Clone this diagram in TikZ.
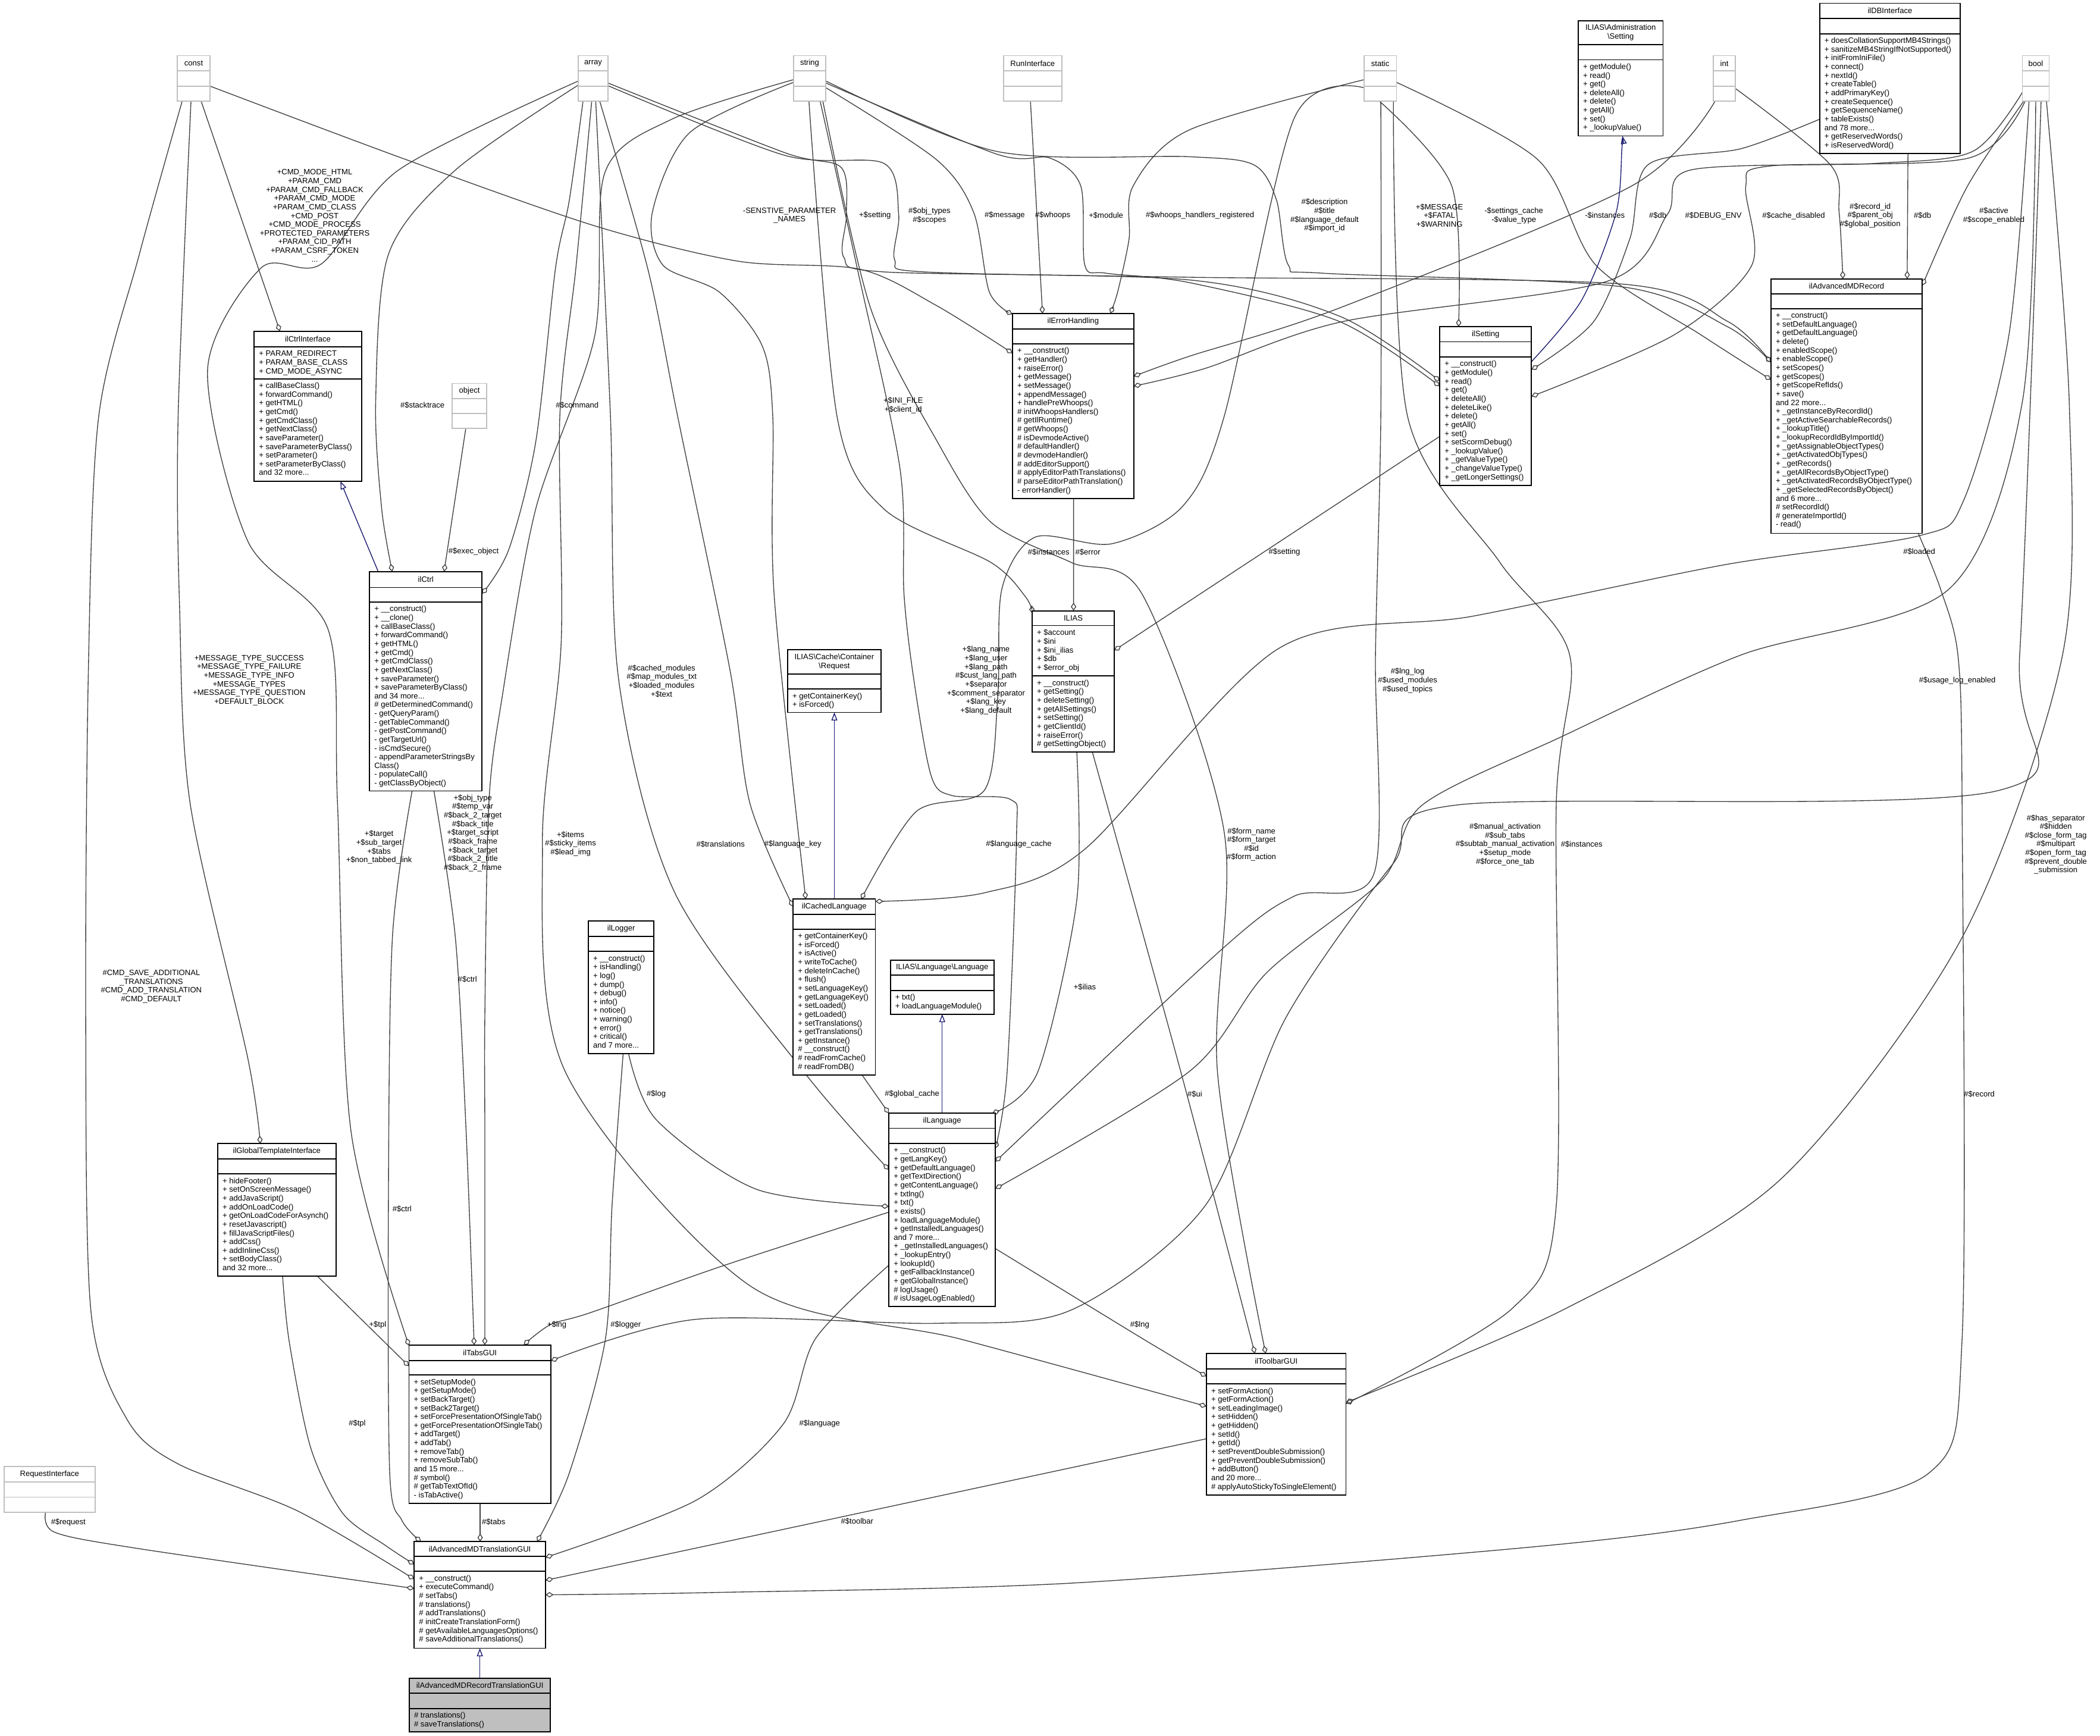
\documentclass[tikz,border=0pt]{standalone}
\usepackage{fontspec}
\setmainfont{Liberation Sans}
\usetikzlibrary{arrows.meta}
\definecolor{boxgray}{HTML}{BFBFBF}
\definecolor{edgegray}{HTML}{404040}
\definecolor{inhblue}{HTML}{191970}
\pgfdeclarelayer{bg}
\pgfsetlayers{bg,main}
\tikzset{
 umlbox/.style={draw=black, line width=0.8pt, fill=white, inner sep=0pt, outer sep=0pt, rectangle},
 mainbox/.style={draw=black, line width=0.8pt, fill=boxgray, inner sep=0pt, outer sep=0pt, rectangle},
 typebox/.style={draw=boxgray, line width=0.8pt, fill=white, inner sep=0pt, outer sep=0pt, rectangle},
 txt/.style={font={\fontsize{5.8}{6.5}\selectfont}, inner sep=0pt, outer sep=0pt},
 body/.style={txt, align=left, anchor=north west},
 elabel/.style={txt, align=center},
 agg/.style={draw=edgegray, line width=0.6pt, -{Diamond[open,length=6pt,width=4pt]}},
 inh/.style={draw=inhblue, line width=0.6pt, -{Triangle[open,length=6pt,width=4.4pt]}},
}
\def\clsstyle{umlbox}
% name, x1, y1, x2, y2, sep1, sep2, title, body
\newcommand\umlclass[9]{%
 \node[\clsstyle, minimum width={#4-#2}, minimum height={#5-#3}, anchor=north west] (#1) at (#2,#3) {};
 \draw[line width=0.8pt] (#2,#6) -- (#4,#6) (#2,#7) -- (#4,#7);
 \node[txt, align=center] at ({(#2+#4)/2},{(#3+#6)/2}) {#8};
 \node[body] at ({#2+3.6},{#7+2.9}) {#9};
}
% name, x1, y1, x2, y2, sep1, sep2, title
\newcommand\typebox[8]{%
 \node[typebox, minimum width={#4-#2}, minimum height={#5-#3}, anchor=north west] (#1) at (#2,#3) {};
 \draw[draw=boxgray, line width=0.8pt] (#2,#6) -- (#4,#6) (#2,#7) -- (#4,#7);
 \node[txt] at ({(#2+#4)/2},{(#3+#6)/2}) {#8};
}
\begin{document}
\begin{tikzpicture}[x=1pt,y=-1pt]
\useasboundingbox (0,0) rectangle (1568,1296);

% ---------- type boxes ----------
\typebox{const}{132.4}{41.5}{156.8}{75.6}{53}{64.3}{const}
\typebox{array}{431.8}{41.5}{454}{75.6}{53}{64.3}{array}
\typebox{string}{592.4}{41.5}{616.7}{75.6}{53}{64.3}{string}
\typebox{RunInterface}{749.4}{41.5}{792.7}{75.6}{53}{64.3}{RunInterface}
\typebox{static}{1018.4}{41.5}{1042.7}{75.6}{53}{64.3}{static}
\typebox{int}{1279.3}{41.5}{1295.7}{75.6}{53}{64.3}{int}
\typebox{bool}{1510}{41.5}{1530}{75.6}{53}{64.3}{bool}
\typebox{object}{337.6}{286.3}{363.4}{319.7}{297.5}{308.7}{object}
\typebox{RequestInterface}{3}{1095}{71}{1129}{1106.5}{1117.8}{RequestInterface}

% ---------- classes ----------
\umlclass{AdmSetting}{1178.4}{15.5}{1241.7}{101.5}{33.3}{44.6}{ILIAS\textbackslash Administration\\\textbackslash Setting}{+ getModule()\\+ read()\\+ get()\\+ deleteAll()\\+ delete()\\+ getAll()\\+ set()\\+ \_lookupValue()}

\umlclass{DB}{1358.7}{2.4}{1463.6}{114.6}{13.7}{25.2}{ilDBInterface}{+ doesCollationSupportMB4Strings()\\+ sanitizeMB4StringIfNotSupported()\\+ initFromIniFile()\\+ connect()\\+ nextId()\\+ createTable()\\+ addPrimaryKey()\\+ createSequence()\\+ getSequenceName()\\+ tableExists()\\and 78 more...\\+ getReservedWords()\\+ isReservedWord()}

\umlclass{CtrlIf}{189.8}{247.3}{269.9}{359.3}{259}{282.8}{ilCtrlInterface}{+ callBaseClass()\\+ forwardCommand()\\+ getHTML()\\+ getCmd()\\+ getCmdClass()\\+ getNextClass()\\+ saveParameter()\\+ saveParameterByClass()\\+ setParameter()\\+ setParameterByClass()\\and 32 more...}
\node[body] at (193.4,261.9) {+ PARAM\_REDIRECT\\+ PARAM\_BASE\_CLASS\\+ CMD\_MODE\_ASYNC};

\umlclass{Err}{756}{234.1}{846.5}{372.2}{245.5}{256.7}{ilErrorHandling}{+ \_\_construct()\\+ getHandler()\\+ raiseError()\\+ getMessage()\\+ setMessage()\\+ appendMessage()\\+ handlePreWhoops()\\\# initWhoopsHandlers()\\\# getIlRuntime()\\\# getWhoops()\\\# isDevmodeActive()\\\# defaultHandler()\\\# devmodeHandler()\\\# addEditorSupport()\\\# applyEditorPathTranslations()\\\# parseEditorPathTranslation()\\- errorHandler()}

\umlclass{Set}{1075}{244}{1143.5}{362.5}{255.2}{266.5}{ilSetting}{+ \_\_construct()\\+ getModule()\\+ read()\\+ get()\\+ deleteAll()\\+ deleteLike()\\+ delete()\\+ getAll()\\+ set()\\+ setScormDebug()\\+ \_lookupValue()\\+ \_getValueType()\\+ \_changeValueType()\\+ \_getLongerSettings()}

\umlclass{Rec}{1322.3}{208.2}{1435.3}{398.2}{219.3}{230.4}{ilAdvancedMDRecord}{+ \_\_construct()\\+ setDefaultLanguage()\\+ getDefaultLanguage()\\+ delete()\\+ enabledScope()\\+ enableScope()\\+ setScopes()\\+ getScopes()\\+ getScopeRefIds()\\+ save()\\and 22 more...\\+ \_getInstanceByRecordId()\\+ \_getActiveSearchableRecords()\\+ \_lookupTitle()\\+ \_lookupRecordIdByImportId()\\+ \_getAssignableObjectTypes()\\+ \_getActivatedObjTypes()\\+ \_getRecords()\\+ \_getAllRecordsByObjectType()\\+ \_getActivatedRecordsByObjectType()\\+ \_getSelectedRecordsByObject()\\and 6 more...\\\# setRecordId()\\\# generateImportId()\\- read()}

\umlclass{Ctrl}{276}{426.8}{359.9}{590.5}{438.6}{449.5}{ilCtrl}{+ \_\_construct()\\+ \_\_clone()\\+ callBaseClass()\\+ forwardCommand()\\+ getHTML()\\+ getCmd()\\+ getCmdClass()\\+ getNextClass()\\+ saveParameter()\\+ saveParameterByClass()\\and 34 more...\\\# getDeterminedCommand()\\- getQueryParam()\\- getTableCommand()\\- getPostCommand()\\- getTargetUrl()\\- isCmdSecure()\\- appendParameterStringsBy\\Class()\\- populateCall()\\- getClassByObject()}

\umlclass{Ilias}{770.7}{456}{832}{561.4}{467.1}{504.7}{ILIAS}{+ \_\_construct()\\+ getSetting()\\+ deleteSetting()\\+ getAllSettings()\\+ setSetting()\\+ getClientId()\\+ raiseError()\\\# getSettingObject()}
\node[body] at (774.3,470) {+ \$account\\+ \$ini\\+ \$ini\_ilias\\+ \$db\\+ \$error\_obj};

\umlclass{CReq}{588.1}{485.2}{657.7}{531.9}{503.4}{514.5}{ILIAS\textbackslash Cache\textbackslash Container\\\textbackslash Request}{+ getContainerKey()\\+ isForced()}

\umlclass{CLang}{592.2}{671.3}{653.6}{802.5}{682.6}{693.7}{ilCachedLanguage}{+ getContainerKey()\\+ isForced()\\+ isActive()\\+ writeToCache()\\+ deleteInCache()\\+ flush()\\+ setLanguageKey()\\+ getLanguageKey()\\+ setLoaded()\\+ getLoaded()\\+ setTranslations()\\+ getTranslations()\\+ getInstance()\\\# \_\_construct()\\\# readFromCache()\\\# readFromDB()}

\umlclass{LangIf}{664.8}{716.8}{742.2}{757.2}{728}{739.5}{ILIAS\textbackslash Language\textbackslash Language}{+ txt()\\+ loadLanguageModule()}

\umlclass{Log}{439.3}{687.5}{488.3}{786.5}{699}{710.3}{ilLogger}{+ \_\_construct()\\+ isHandling()\\+ log()\\+ dump()\\+ debug()\\+ info()\\+ notice()\\+ warning()\\+ error()\\+ critical()\\and 7 more...}

\umlclass{Lang}{663.7}{831.2}{743.2}{975.6}{842.4}{853.7}{ilLanguage}{+ \_\_construct()\\+ getLangKey()\\+ getDefaultLanguage()\\+ getTextDirection()\\+ getContentLanguage()\\+ txtlng()\\+ txt()\\+ exists()\\+ loadLanguageModule()\\+ getInstalledLanguages()\\and 7 more...\\+ \_getInstalledLanguages()\\+ \_lookupEntry()\\+ lookupId()\\+ getFallbackInstance()\\+ getGlobalInstance()\\\# logUsage()\\\# isUsageLogEnabled()}

\umlclass{Tpl}{162.6}{853.9}{250.8}{952.8}{865.2}{876.5}{ilGlobalTemplateInterface}{+ hideFooter()\\+ setOnScreenMessage()\\+ addJavaScript()\\+ addOnLoadCode()\\+ getOnLoadCodeForAsynch()\\+ resetJavascript()\\+ fillJavaScriptFiles()\\+ addCss()\\+ addInlineCss()\\+ setBodyClass()\\and 32 more...}

\umlclass{Tabs}{305.4}{1004.2}{411.3}{1122.4}{1015.7}{1026.6}{ilTabsGUI}{+ setSetupMode()\\+ getSetupMode()\\+ setBackTarget()\\+ setBack2Target()\\+ setForcePresentationOfSingleTab()\\+ getForcePresentationOfSingleTab()\\+ addTarget()\\+ addTab()\\+ removeTab()\\+ removeSubTab()\\and 15 more...\\\# symbol()\\\# getTabTextOfId()\\- isTabActive()}

\umlclass{Tool}{900.8}{1010.6}{1005}{1116.1}{1022}{1033.2}{ilToolbarGUI}{+ setFormAction()\\+ getFormAction()\\+ setLeadingImage()\\+ setHidden()\\+ getHidden()\\+ setId()\\+ getId()\\+ setPreventDoubleSubmission()\\+ getPreventDoubleSubmission()\\+ addButton()\\and 20 more...\\\# applyAutoStickyToSingleElement()}

\umlclass{TGUI}{309.3}{1151}{407.3}{1230.6}{1162.1}{1173.2}{ilAdvancedMDTranslationGUI}{+ \_\_construct()\\+ executeCommand()\\\# setTabs()\\\# translations()\\\# addTranslations()\\\# initCreateTranslationForm()\\\# getAvailableLanguagesOptions()\\\# saveAdditionalTranslations()}

\def\clsstyle{mainbox}
\umlclass{RTGUI}{305.6}{1253}{411}{1293}{1264}{1275.6}{ilAdvancedMDRecordTranslationGUI}{\# translations()\\\# saveTranslations()}
\def\clsstyle{umlbox}

% ---------- connectors ----------
\begin{pgfonlayer}{bg}
\fill[white] (0,0) rectangle (1568,1296);
% const
\draw[agg] ([shift={(17.8,34.1)}]const.north west) -- ([shift={(19.2,0)}]CtrlIf.north west);
\draw[agg] plot[smooth] coordinates {([shift={(10.2,34.1)}]const.north west) (133,311) (134,450) (142,600) (185,790) ([shift={(31.7,0)}]Tpl.north west)};
\draw[agg] plot[smooth] coordinates {([shift={(3.6,34.1)}]const.north west) (104,190) (73.7,311) (66,500) (64,760) (68,980) (95,1060) (133,1093) (222,1128) ([shift={(0,28)}]TGUI.north west)};
\draw[agg] plot[smooth] coordinates {([shift={(24.4,22.8)}]const.north west) (300,118) (444,168.6) (551,195) (642,201) (699,228) ([shift={(0,29.6)}]Err.north west)};
% array
\draw[agg] plot[smooth] coordinates {([shift={(0,22)}]array.north west) (340,127) (290,190) (280.5,300) (285,380) ([shift={(16.9,0)}]Ctrl.north west)};
\draw[agg] plot[smooth] coordinates {([shift={(0,19)}]array.north west) (297.5,127) (240,197) (195,200) (155,276) (185,404) (245,470) (252,600) (262,844) ([shift={(0,0.5)}]Tabs.north west)};
\draw[agg] plot[smooth] coordinates {([shift={(3.5,34.1)}]array.north west) (425,150) (414.8,200) (400,330) (380,410) ([shift={(83.9,16.5)}]Ctrl.north west)};
\draw[agg] plot[smooth] coordinates {([shift={(10,34.1)}]array.north west) (430,200) (418,311) (419,480) (405,630) (422,800) (560,960) (718,1000) ([shift={(0,39.4)}]Tool.north west)};
\draw[agg] plot[smooth] coordinates {([shift={(13,34.1)}]array.north west) (455.8,311) (462,508) (503.6,666) (600,800) ([shift={(0,42.2)}]Lang.north west)};
\draw[agg] plot[smooth] coordinates {([shift={(16,34.1)}]array.north west) (484,202) (506,311) (545,500) (560,600) ([shift={(0,5.7)}]CLang.north west)};
\draw[agg] plot[smooth] coordinates {([shift={(22.2,20.5)}]array.north west) (586,114) (628,125) (632,160) (630,192) (660,203) (888,209) (1000,236) ([shift={(0,40.4)}]Set.north west)};
\draw[agg] plot[smooth] coordinates {([shift={(22.2,22.5)}]array.north west) (586,116) (660,122) (671,160) (668,194) (690,203) (888,207) (1210,212) (1290,240) ([shift={(0,62.4)}]Rec.north west)};
% string
\draw[agg] plot[smooth] coordinates {([shift={(24.3,24)}]string.north west) (699,119) (727,158.6) (738.7,218) ([shift={(0,0.5)}]Err.north west)};
\draw[agg] plot[smooth] coordinates {([shift={(24.3,20.5)}]string.north west) (744,115) (784,118) (807,139) (810,198) (826,204) (888,211) (1000,240) ([shift={(0,44.3)}]Set.north west)};
\draw[agg] plot[smooth] coordinates {([shift={(24.3,19)}]string.north west) (744,113) (888,117) (936,123) (953,149) (962,198) (988,204) (1210,214) (1290,244) ([shift={(0,62.4)}]Rec.north west)};
\draw[agg] plot[smooth] coordinates {([shift={(11.6,34.1)}]string.north west) (625,311) (660,380) (740,420) (766,446) ([shift={(0,2)}]Ilias.north west)};
\draw[agg] plot[smooth] coordinates {([shift={(20,34.1)}]string.north west) (640,200) (672,350) (675,444) (683,512) (695.5,580) (711,594) (754.7,597) (759,625) (752,800) ([shift={(79.5,26.3)}]Lang.north west)};
\draw[agg] plot[smooth] coordinates {([shift={(0,20)}]string.north west) (515,99) (487,159) (495,198) (537,218) (569,258) (577,311) (578,444) ([shift={(9.4,0)}]CLang.north west)};
\draw[agg] plot[smooth] coordinates {([shift={(0,18)}]string.north west) (501.6,89) (451.6,129) (444,251) (400,380) (375,520) (365,600) (362,760) (362,844) ([shift={(56.6,0)}]Tabs.north west)};
\draw[agg] plot[smooth] coordinates {([shift={(22,34.1)}]string.north west) (650,230) (700,330) (740,390) (800,420) (853,444) (914,621) (909,800) ([shift={(44.2,0)}]Tool.north west)};
\draw[agg] ([shift={(20,34.1)}]RunInterface.north west) -- ([shift={(22.4,0)}]Err.north west);
% static
\draw[agg] plot[smooth] coordinates {([shift={(0,18)}]static.north west) (888,97) (846,139) (843,178.6) (834.5,218) ([shift={(73,0)}]Err.north west)};
\draw[agg] plot[smooth] coordinates {([shift={(11.6,34.1)}]static.north west) (1084,139) ([shift={(14,0)}]Set.north west)};
\draw[agg] plot[smooth] coordinates {([shift={(24.3,20)}]static.north west) (1148,119) (1191.6,198) (1270,250) ([shift={(0,75.3)}]Rec.north west)};
\draw[agg] plot[smooth] coordinates {([shift={(0,24)}]static.north west) (966,89) (914,311) (883,378) (830,406) (773,401) (748,440) (745,520) (735,590) (684,606) ([shift={(50.8,0)}]CLang.north west)};
\draw[agg] plot[smooth] coordinates {([shift={(12.6,34.1)}]static.north west) (1031,311) (1027,489) (1026,652) (966.5,669) (912,709) ([shift={(79.5,36.1)}]Lang.north west)};
\draw[agg] plot[smooth] coordinates {([shift={(22,34.1)}]static.north west) (1051,311) (1120,420) (1172,489) (1162,600) (1162,900) (1129,977) ([shift={(104.2,37.5)}]Tool.north west)};
% int
\draw[agg] plot[smooth] coordinates {([shift={(1.2,34.1)}]int.north west) (1218,139) (1000,230) (888,266) ([shift={(90.5,46.9)}]Err.north west)};
\draw[agg] plot[smooth] coordinates {([shift={(16.4,24.5)}]int.north west) (1366.6,123) (1373.2,158.6) ([shift={(53.7,0)}]Rec.north west)};
% bool
\draw[agg] plot[smooth] coordinates {([shift={(0,27.5)}]bool.north west) (1473,113) (1400,122) (1262,127) (1245,160) (1200,210) (1003,240) (900,275) ([shift={(90.5,54.2)}]Err.north west)};
\draw[agg] plot[smooth] coordinates {([shift={(2,34.1)}]bool.north west) (1470,118) (1321,124) (1303.5,139) (1308,198) (1250,250) ([shift={(68.5,52)}]Set.north west)};
\draw[agg] plot[smooth] coordinates {([shift={(1,34.1)}]bool.north west) (1469,139) ([shift={(113,5)}]Rec.north west)};
\draw[agg] plot[smooth] coordinates {([shift={(5,34.1)}]bool.north west) (1500,250) (1466,374) (1433,400) (1288,421.6) (1100,460) (955,484) (810,634) (735,666.6) ([shift={(61.4,1.7)}]CLang.north west)};
\draw[agg] plot[smooth] coordinates {([shift={(10,34.1)}]bool.north west) (1510,300) (1455,440) (1300,489) (1166,550) (1062,601) (1032,657) (946,726) (888,800) ([shift={(79.5,56.3)}]Lang.north west)};
\draw[agg] plot[smooth] coordinates {([shift={(14,34.1)}]bool.north west) (1508,489) (1493,590) (1088,601) (1040,645) (960,760) (900,900) (800,978) (700,988) (520,985) ([shift={(105.9,11.8)}]Tabs.north west)};
\draw[agg] plot[smooth] coordinates {([shift={(18,34.1)}]bool.north west) (1545,300) (1540,489) (1465,700) (1330,880) (1169,977) ([shift={(104.2,36.5)}]Tool.north west)};
% ilDBInterface, ilSetting, ilErrorHandling, object
\draw[agg] ([shift={(65.9,112.2)}]DB.north west) -- ([shift={(101.7,0)}]Rec.north west);
\draw[agg] plot[smooth] coordinates {([shift={(0,86.6)}]DB.north west) (1300,111) (1230.5,123) (1217,178) (1190,240) ([shift={(68.5,32)}]Set.north west)};
\draw[inh] plot[smooth] coordinates {([shift={(68.5,26)}]Set.north west) (1181,224) (1206.6,159) (1211,111) ([shift={(33,86)}]AdmSetting.north west)};
\draw[agg] ([shift={(0,81.8)}]Set.north west) -- ([shift={(61.3,29.6)}]Ilias.north west);
\draw[agg] ([shift={(45.6,138.1)}]Err.north west) -- ([shift={(30.9,0)}]Ilias.north west);
\draw[agg] ([shift={(10.2,33.4)}]object.north west) -- ([shift={(55.6,0)}]Ctrl.north west);
% ilCtrl
\draw[inh] ([shift={(6.4,0)}]Ctrl.north west) -- ([shift={(64.4,112)}]CtrlIf.north west);
\draw[agg] plot[smooth] coordinates {([shift={(48,163.7)}]Ctrl.north west) (340,700) (348,844) ([shift={(48.6,0)}]Tabs.north west)};
\draw[agg] plot[smooth] coordinates {([shift={(31.7,163.7)}]Ctrl.north west) (293,700) (290,900) (291,1100) (300,1135) ([shift={(5.1,0)}]TGUI.north west)};
% language
\draw[inh] ([shift={(30.8,0)}]CLang.north west) -- ([shift={(34.9,46.7)}]CReq.north west);
\draw[agg] ([shift={(51.4,131.2)}]CLang.north west) -- (Lang.north west);
\draw[inh] ([shift={(39.8,0)}]Lang.north west) -- ([shift={(38.7,40.4)}]LangIf.north west);
\draw[agg] plot[smooth] coordinates {([shift={(30,99)}]Log.north west) (490,836) (565,888) ([shift={(0,69.5)}]Lang.north west)};
\draw[agg] plot[smooth] coordinates {([shift={(26,99)}]Log.north west) (457,900) (452,1000) (425,1100) ([shift={(91.7,0)}]TGUI.north west)};
\draw[agg] plot[smooth] coordinates {([shift={(33.3,105.4)}]Ilias.north west) (804,672) (775,800) ([shift={(77.1,0)}]Lang.north west)};
\draw[agg] plot[smooth] coordinates {([shift={(44.9,105.4)}]Ilias.north west) (881.6,800) ([shift={(36.2,0)}]Tool.north west)};
\draw[agg] plot[smooth] coordinates {([shift={(0,73.8)}]Lang.north west) (540,945) (441,980) (411,989) ([shift={(85.6,0)}]Tabs.north west)};
\draw[agg] plot[smooth] coordinates {([shift={(79.5,101)}]Lang.north west) (854,1000) ([shift={(0,17)}]Tool.north west)};
\draw[agg] plot[smooth] coordinates {([shift={(0,113.4)}]Lang.north west) (609,999.3) (585,1063) (520,1120) ([shift={(98,11.8)}]TGUI.north west)};
% bottom
\draw[agg] ([shift={(74.4,98.9)}]Tpl.north west) -- ([shift={(0,15.8)}]Tabs.north west);
\draw[agg] plot[smooth] coordinates {([shift={(48.4,98.9)}]Tpl.north west) (216,1002) (232,1081) (256,1130) (288,1154) ([shift={(0,17)}]TGUI.north west)};
\draw[agg] ([shift={(53.1,118.2)}]Tabs.north west) -- ([shift={(49.2,0)}]TGUI.north west);
\draw[agg] ([shift={(0,63.6)}]Tool.north west) -- ([shift={(98,28.9)}]TGUI.north west);
\draw[agg] plot[smooth] coordinates {([shift={(110,190)}]Rec.north west) (1449,440) (1462,490) (1465,600) (1465,1000) (1440,1100) (1300,1135) (1144,1155) (800,1182) (533,1189) ([shift={(98,39.7)}]TGUI.north west)};
\draw[agg] plot[smooth] coordinates {([shift={(31,34)}]RequestInterface.north west) (40.8,1144) (102,1156) ([shift={(0,35)}]TGUI.north west)};
\draw[inh] ([shift={(52.7,0)}]RTGUI.north west) -- ([shift={(49,79.6)}]TGUI.north west);
\end{pgfonlayer}

% ---------- connector labels ----------
\node[elabel] at (235,161) {+CMD\_MODE\_HTML\\+PARAM\_CMD\\+PARAM\_CMD\_FALLBACK\\+PARAM\_CMD\_MODE\\+PARAM\_CMD\_CLASS\\+CMD\_POST\\+CMD\_MODE\_PROCESS\\+PROTECTED\_PARAMETERS\\+PARAM\_CID\_PATH\\+PARAM\_CSRF\_TOKEN\\...};
\node[elabel] at (186,508) {+MESSAGE\_TYPE\_SUCCESS\\+MESSAGE\_TYPE\_FAILURE\\+MESSAGE\_TYPE\_INFO\\+MESSAGE\_TYPES\\+MESSAGE\_TYPE\_QUESTION\\+DEFAULT\_BLOCK};
\node[elabel] at (113,736.5) {\#CMD\_SAVE\_ADDITIONAL\\\_TRANSLATIONS\\\#CMD\_ADD\_TRANSLATION\\\#CMD\_DEFAULT};
\node[elabel] at (589.5,160.9) {-SENSTIVE\_PARAMETER\\\_NAMES};
\node[elabel] at (315.4,302.6) {\#\$stacktrace};
\node[elabel] at (283,632.7) {+\$target\\+\$sub\_target\\+\$tabs\\+\$non\_tabbed\_link};
\node[elabel] at (431,302.6) {\#\$command};
\node[elabel] at (426,630) {+\$items\\\#\$sticky\_items\\\#\$lead\_img};
\node[elabel] at (494,508.5) {\#\$cached\_modules\\\#\$map\_modules\_txt\\+\$loaded\_modules\\+\$text};
\node[elabel] at (538,630.5) {\#\$translations};
\node[elabel] at (653.3,161) {+\$setting};
\node[elabel] at (694,160.9) {\#\$obj\_types\\\#\$scopes};
\node[elabel] at (750.2,161) {\#\$message};
\node[elabel] at (825.8,161) {+\$module};
\node[elabel] at (989,161) {\#\$description\\\#\$title\\\#\$language\_default\\\#\$import\_id};
\node[elabel] at (674.4,302.6) {+\$INI\_FILE\\+\$client\_id};
\node[elabel] at (736.2,508) {+\$lang\_name\\+\$lang\_user\\+\$lang\_path\\\#\$cust\_lang\_path\\+\$separator\\+\$comment\_separator\\+\$lang\_key\\+\$lang\_default};
\node[elabel] at (592,630.5) {\#\$language\_key};
\node[elabel] at (353,622) {+\$obj\_type\\\#\$temp\_var\\\#\$back\_2\_target\\\#\$back\_title\\+\$target\_script\\\#\$back\_frame\\+\$back\_target\\\#\$back\_2\_title\\\#\$back\_2\_frame};
\node[elabel] at (934.4,630.5) {\#\$form\_name\\\#\$form\_target\\\#\$id\\\#\$form\_action};
\node[elabel] at (786,161) {\#\$whoops};
\node[elabel] at (896,161) {\#\$whoops\_handlers\_registered};
\node[elabel] at (1130.3,160.9) {-\$settings\_cache\\-\$value\_type};
\node[elabel] at (1198.3,161) {-\$instances};
\node[elabel] at (783,412.2) {\#\$instances};
\node[elabel] at (812.3,412.2) {\#\$error};
\node[elabel] at (959,412.2) {\#\$setting};
\node[elabel] at (1051,508.2) {\#\$lng\_log\\\#\$used\_modules\\\#\$used\_topics};
\node[elabel] at (1181,630.4) {\#\$instances};
\node[elabel] at (1074.8,161) {+\$MESSAGE\\+\$FATAL\\+\$WARNING};
\node[elabel] at (1396.4,161) {\#\$record\_id\\\#\$parent\_obj\\\#\$global\_position};
\node[elabel] at (1237.8,161) {\#\$db};
\node[elabel] at (1279.3,161) {\#\$DEBUG\_ENV};
\node[elabel] at (1339.2,161) {\#\$cache\_disabled};
\node[elabel] at (1435.4,161) {\#\$db};
\node[elabel] at (1488.7,160.9) {\#\$active\\\#\$scope\_enabled};
\node[elabel] at (1433,411.7) {\#\$loaded};
\node[elabel] at (1461.4,508.3) {\#\$usage\_log\_enabled};
\node[elabel] at (1123.8,630.4) {\#\$manual\_activation\\\#\$sub\_tabs\\\#\$subtab\_manual\_activation\\+\$setup\_mode\\\#\$force\_one\_tab};
\node[elabel] at (1535,630.5) {\#\$has\_separator\\\#\$hidden\\\#\$close\_form\_tag\\\#\$multipart\\\#\$open\_form\_tag\\\#\$prevent\_double\\\_submission};
\node[elabel] at (760.7,630.5) {\#\$language\_cache};
\node[elabel] at (353.6,411.8) {\#\$exec\_object};
\node[elabel] at (349,731) {\#\$ctrl};
\node[elabel] at (300.2,902.6) {\#\$ctrl};
\node[elabel] at (681,816.7) {\#\$global\_cache};
\node[elabel] at (490,816.7) {\#\$log};
\node[elabel] at (467.2,989.4) {\#\$logger};
\node[elabel] at (810,736.8) {+\$ilias};
\node[elabel] at (892.1,816.7) {\#\$ui};
\node[elabel] at (1477.9,816.7) {\#\$record};
\node[elabel] at (415.8,989.3) {+\$lng};
\node[elabel] at (851,989.4) {\#\$lng};
\node[elabel] at (612,1063) {\#\$language};
\node[elabel] at (282,989.3) {+\$tpl};
\node[elabel] at (266.7,1062.9) {\#\$tpl};
\node[elabel] at (368.6,1136.2) {\#\$tabs};
\node[elabel] at (640,1136) {\#\$toolbar};
\node[elabel] at (51,1136.7) {\#\$request};
\end{tikzpicture}
\end{document}
